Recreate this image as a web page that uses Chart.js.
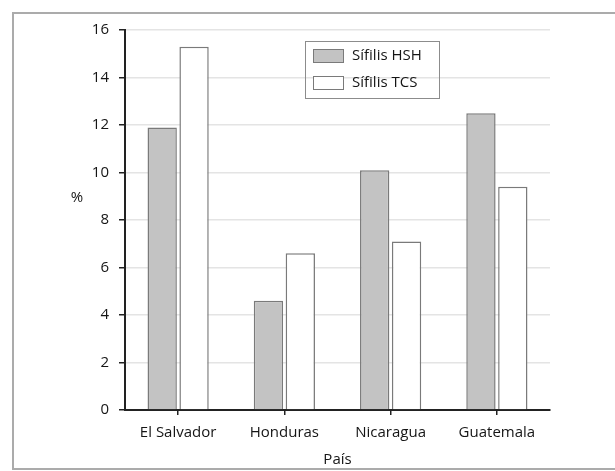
<!DOCTYPE html>
<html lang="es">
<head>
<meta charset="UTF-8">
<title>Sífilis HSH / TCS</title>
<script src="https://cdn.jsdelivr.net/npm/chart.js"></script>
<style>
  body { margin: 0; background: #fff; }
  #wrap { position: relative; width: 615px; height: 471px; overflow: hidden; }
  #frame {
    position: absolute; left: 12px; top: 12px; width: 640px; height: 454px;
    border: 2px solid #ababab;
  }
  canvas { position: absolute; left: 0; top: 0; }
</style>
</head>
<body>
<div id="wrap">
  <div id="frame"></div>
  <canvas id="chart" width="615" height="471"></canvas>
</div>
<script>
const countries = ['El Salvador', 'Honduras', 'Nicaragua', 'Guatemala'];
const sifilisHSH = [11.9, 4.6, 10.1, 12.5];
const sifilisTCS = [15.3, 6.6, 7.1, 9.4];
const seriesNames = ['Sífilis HSH', 'Sífilis TCS'];
const yTicks = [0, 2, 4, 6, 8, 10, 12, 14, 16];

const FONT = '"Open Sans", "DejaVu Sans", sans-serif';
const TEXT = '#151515';

// legend in a box + the horizontal "%" label
const boxLegend = {
  id: 'boxLegend',
  afterDraw(chart) {
    const ctx = chart.ctx;
    ctx.save();
    // "%" label
    ctx.fillStyle = TEXT;
    ctx.font = '15px ' + FONT;
    ctx.textAlign = 'center';
    ctx.textBaseline = 'middle';
    ctx.fillText('%', 77, 198);

    // legend box
    ctx.strokeStyle = '#8c8c8c';
    ctx.lineWidth = 1;
    ctx.strokeRect(305.5, 41.5, 134, 57);
    chart.data.datasets.forEach((ds, i) => {
      const y = 49 + i * 27;
      ctx.fillStyle = ds.backgroundColor;
      ctx.fillRect(313, y, 31, 14);
      ctx.strokeStyle = ds.borderColor;
      ctx.strokeRect(313.5, y + 0.5, 30, 13);
      ctx.fillStyle = TEXT;
      ctx.textAlign = 'left';
      ctx.fillText(ds.label, 352, y + 7);
    });
    ctx.restore();
  }
};

new Chart(document.getElementById('chart'), {
  type: 'bar',
  data: {
    labels: countries,
    datasets: [
      { label: seriesNames[0], data: sifilisHSH, backgroundColor: '#c3c3c3', borderColor: '#7a7a7a', borderWidth: 1.5 },
      { label: seriesNames[1], data: sifilisTCS, backgroundColor: '#ffffff', borderColor: '#7a7a7a', borderWidth: 1.5 }
    ]
  },
  options: {
    responsive: false,
    animation: false,
    layout: { padding: { left: 0, right: 65, top: 30, bottom: 0 } },
    datasets: { bar: { categoryPercentage: 0.6, barPercentage: 0.92 } },
    plugins: { legend: { display: false }, tooltip: { enabled: false } },
    scales: {
      x: {
        afterFit(scale) { scale.height = 61; },
        border: { color: '#222', width: 2 },
        grid: { display: true, drawOnChartArea: false, offset: false, tickLength: 5, tickColor: '#222', lineWidth: 1.5 },
        ticks: { color: TEXT, font: { family: FONT, size: 15 }, padding: 9, maxRotation: 0 },
        title: { display: true, text: 'País', color: TEXT, font: { family: FONT, size: 15 }, padding: { top: 0, bottom: 2 } }
      },
      y: {
        min: 0, max: 16,
        afterFit(scale) { scale.width = 125; },
        afterBuildTicks(scale) { scale.ticks = yTicks.map(v => ({ value: v })); },
        border: { color: '#222', width: 2 },
        grid: { color: '#e4e4e4', lineWidth: 1.5, tickLength: 6, tickColor: '#222' },
        ticks: { color: TEXT, font: { family: FONT, size: 15 }, padding: 10 }
      }
    }
  },
  plugins: [boxLegend]
});
</script>
</body>
</html>
